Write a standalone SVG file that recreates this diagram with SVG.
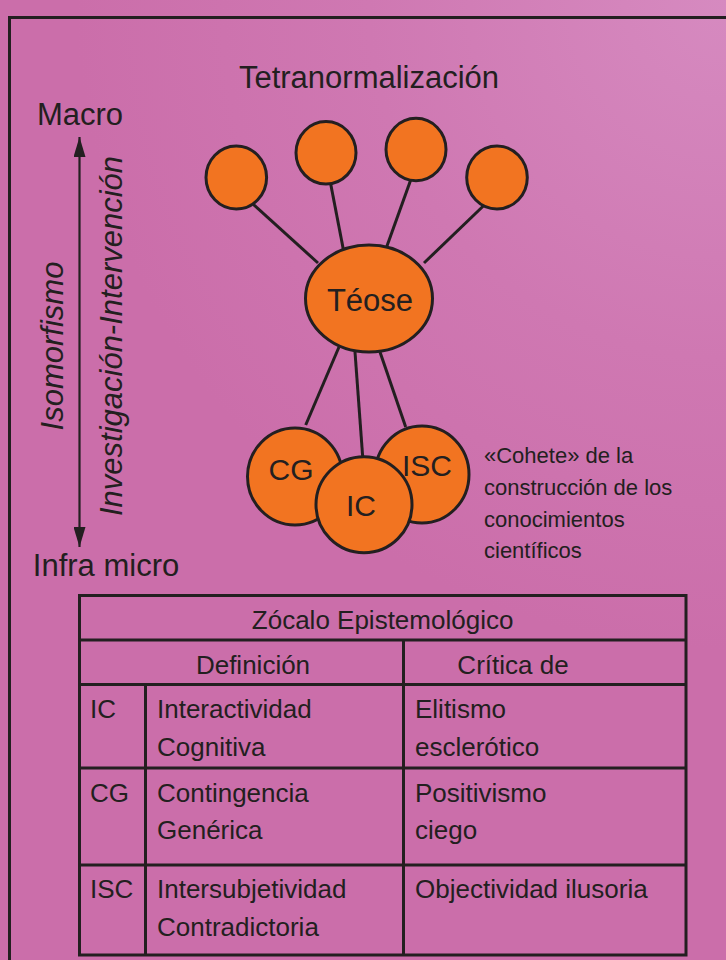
<svg xmlns="http://www.w3.org/2000/svg" width="726" height="960" viewBox="0 0 726 960">
<defs>
<radialGradient id="bg" cx="726" cy="0" r="650" gradientUnits="userSpaceOnUse">
<stop offset="0" stop-color="#D68AC0"/>
<stop offset="0.55" stop-color="#CF78B2"/>
<stop offset="1" stop-color="#CB6EAA"/>
</radialGradient>
<marker id="arr" viewBox="0 0 20 12" refX="20" refY="6" markerWidth="20" markerHeight="12" markerUnits="userSpaceOnUse" orient="auto-start-reverse">
<path d="M0,0 L20,6 L0,12 Z" fill="#231f20"/>
</marker>
</defs>
<style>
.t{font-family:"Liberation Sans",Arial,sans-serif;fill:#231f20}
.big{font-size:31px}
.node{fill:#F27421;stroke:#231f20;stroke-width:3}
.lbl{font-size:30px;text-anchor:middle}
.cn{stroke:#231f20;stroke-width:3;fill:none}
.tb{stroke:#231f20;stroke-width:3;fill:none}
.cell{font-size:26px}
.note{font-size:22px}
</style>
<rect x="0" y="0" width="726" height="960" fill="url(#bg)"/>
<rect x="9.5" y="17.5" width="800" height="1000" fill="none" stroke="#231f20" stroke-width="3"/>

<text class="t big" x="369" y="88" text-anchor="middle">Tetranormalización</text>
<text class="t big" x="80" y="125" text-anchor="middle">Macro</text>
<text class="t big" x="106" y="576" text-anchor="middle">Infra micro</text>
<g id="axis">
<line x1="79.5" y1="137" x2="79.5" y2="547" stroke="#231f20" stroke-width="2.2" marker-start="url(#arr)" marker-end="url(#arr)"/>
</g>
<text class="t big" font-style="italic" text-anchor="middle" transform="translate(63,346) rotate(-90)">Isomorfismo</text>
<text class="t big" font-style="italic" text-anchor="middle" transform="translate(122,336) rotate(-90)">Investigación-Intervención</text>

<g id="connectors">
<line class="cn" x1="253.3" y1="204.3" x2="318" y2="263"/>
<line class="cn" x1="330.7" y1="184" x2="343.3" y2="249.3"/>
<line class="cn" x1="410.7" y1="180" x2="386.7" y2="246.7"/>
<line class="cn" x1="483.3" y1="206" x2="424" y2="263"/>
<line class="cn" x1="339" y1="347" x2="305.7" y2="425"/>
<line class="cn" x1="355" y1="352" x2="362.7" y2="457"/>
<line class="cn" x1="380" y1="352" x2="405.7" y2="427"/>
</g>

<g id="s1"><ellipse class="node" cx="236.3" cy="177.5" rx="30.3" ry="31.5"/></g>
<g id="s2"><ellipse class="node" cx="326" cy="152.8" rx="30" ry="31.2"/></g>
<g id="s3"><ellipse class="node" cx="416" cy="149.5" rx="30" ry="31.2"/></g>
<g id="s4"><ellipse class="node" cx="497" cy="177.5" rx="30.3" ry="31.5"/></g>

<g id="teose">
<ellipse class="node" cx="369" cy="298.5" rx="63.5" ry="53.5"/>
<text class="t big" x="370" y="311" text-anchor="middle">Téose</text>
</g>

<g id="cg"><ellipse class="node" cx="295" cy="476.5" rx="47.5" ry="48.5"/></g>
<g id="isc"><ellipse class="node" cx="422" cy="474.5" rx="47" ry="48.5"/></g>
<g id="ic"><ellipse class="node" cx="364" cy="504.7" rx="48" ry="48"/></g>
<text class="t lbl" x="291" y="480">CG</text>
<text class="t lbl" x="427" y="476">ISC</text>
<text class="t lbl" x="361" y="516">IC</text>

<g id="note">
<text class="t note" x="484" y="463">«Cohete» de la</text>
<text class="t note" x="484" y="495">construcción de los</text>
<text class="t note" x="484" y="527">conocimientos</text>
<text class="t note" x="484" y="558">científicos</text>
</g>

<g id="table">
<rect class="tb" x="79.5" y="595.5" width="606.5" height="359.5"/>
<line class="tb" x1="79.5" y1="640" x2="686" y2="640"/>
<line class="tb" x1="79.5" y1="684.5" x2="686" y2="684.5"/>
<line class="tb" x1="79.5" y1="768" x2="686" y2="768"/>
<line class="tb" x1="79.5" y1="865" x2="686" y2="865"/>
<line class="tb" x1="145.5" y1="684.5" x2="145.5" y2="955"/>
<line class="tb" x1="403.5" y1="640" x2="403.5" y2="955"/>
<text class="t cell" x="382.6" y="629" text-anchor="middle">Zócalo Epistemológico</text>
<text class="t cell" x="253" y="674" text-anchor="middle">Definición</text>
<text class="t cell" x="513" y="674" text-anchor="middle">Crítica de</text>
<text class="t cell" x="90" y="718">IC</text>
<text class="t cell" x="157" y="718">Interactividad</text>
<text class="t cell" x="157" y="756">Cognitiva</text>
<text class="t cell" x="415" y="718">Elitismo</text>
<text class="t cell" x="415" y="756">esclerótico</text>
<text class="t cell" x="90" y="802">CG</text>
<text class="t cell" x="157" y="802">Contingencia</text>
<text class="t cell" x="157" y="839">Genérica</text>
<text class="t cell" x="415" y="802">Positivismo</text>
<text class="t cell" x="415" y="839">ciego</text>
<text class="t cell" x="90" y="898">ISC</text>
<text class="t cell" x="157" y="898">Intersubjetividad</text>
<text class="t cell" x="157" y="936">Contradictoria</text>
<text class="t cell" x="415" y="898">Objectividad ilusoria</text>
</g>
</svg>
